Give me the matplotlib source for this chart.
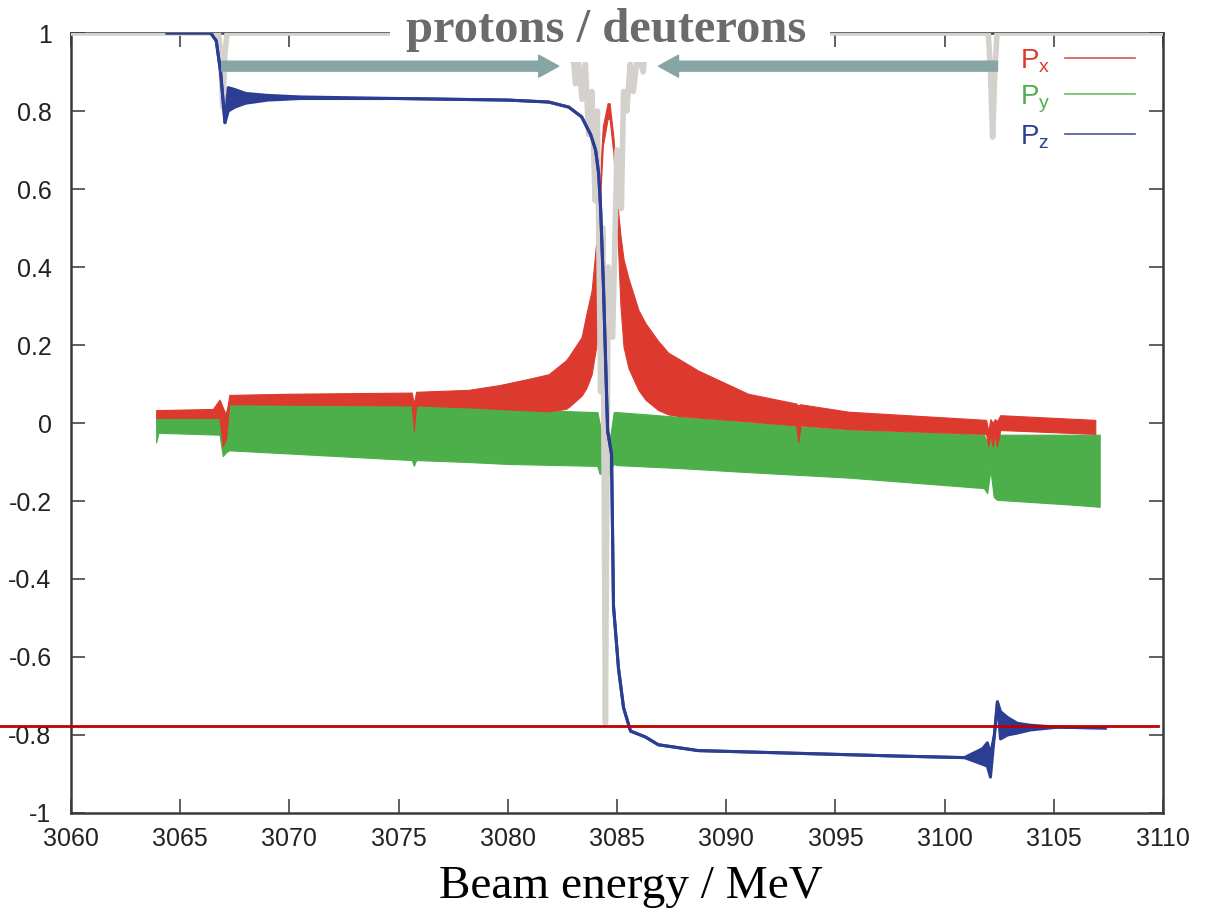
import matplotlib
matplotlib.use("Agg")
import matplotlib.pyplot as plt
from matplotlib.lines import Line2D
from matplotlib.patches import Rectangle, FancyArrowPatch

plt.rcParams['font.family'] = ['Liberation Sans', 'DejaVu Sans']
plt.rcParams['axes.unicode_minus'] = False

# Px band (upper / lower envelope of the fast oscillation)
px_E = [3063.9, 3066.5, 3066.8, 3066.95, 3067.1, 3067.25, 3070.0, 3075.6, 3075.7, 3075.8,
        3078.2, 3079.6, 3081.1, 3081.87, 3082.65, 3082.79, 3083.38, 3083.6, 3083.84,
        3084.06, 3084.16, 3084.25, 3084.35, 3084.57, 3084.66, 3084.84, 3084.98, 3085.07,
        3085.16, 3085.3, 3085.53, 3085.98, 3086.3, 3086.89, 3087.35, 3087.81, 3088.7,
        3091.0, 3093.2, 3093.3, 3093.4, 3095.6, 3101.9, 3102.0, 3102.1, 3102.2, 3102.3,
        3102.4, 3102.55, 3106.9]
px_hi = [0.033, 0.036, 0.06, 0.04, 0.02, 0.072, 0.075, 0.078, 0.05, 0.08,
         0.085, 0.097, 0.115, 0.125, 0.16, 0.17, 0.22, 0.28, 0.34,
         0.47, 0.55, 0.66, 0.76, 0.82, 0.82, 0.73, 0.60, 0.53,
         0.48, 0.42, 0.37, 0.29, 0.256, 0.21, 0.18, 0.165, 0.135,
         0.075, 0.05, 0.045, 0.048, 0.029, 0.008, -0.02, 0.01, 0.0, 0.01,
         0.005, 0.02, 0.008]
px_lo = [0.013, 0.013, 0.013, -0.06, -0.04, 0.048, 0.047, 0.045, -0.02, 0.045,
         0.04, 0.036, 0.032, 0.03, 0.036, 0.041, 0.07, 0.09, 0.125,
         0.20, 0.30, 0.60, 0.71, 0.78, 0.78, 0.69, 0.52, 0.42,
         0.30, 0.195, 0.14, 0.085, 0.06, 0.033, 0.022, 0.018, 0.014,
         0.004, -0.006, -0.05, -0.006, -0.016, -0.028, -0.06, -0.03, -0.06, -0.03,
         -0.06, -0.018, -0.028]

# Py band
py_E = [3063.9, 3064.0, 3066.8, 3066.95, 3067.1, 3067.25, 3075.6, 3075.7, 3075.8, 3078.2,
        3080.0, 3084.1, 3084.2, 3084.3, 3084.5, 3084.7, 3084.85, 3085.0, 3088.0, 3091.0,
        3095.6, 3101.8, 3101.95, 3102.1, 3102.25, 3102.4, 3106.0, 3107.1]
py_hi = [0.015, 0.015, 0.015, -0.01, 0.03, 0.05, 0.045, 0.0, 0.045, 0.04,
         0.035, 0.028, 0.0, -0.03, -0.03, -0.03, 0.028, 0.028, 0.015, 0.002,
         -0.018, -0.03, -0.05, -0.03, -0.05, -0.03, -0.03, -0.03]
py_lo = [-0.05, -0.025, -0.03, -0.085, -0.075, -0.07, -0.095, -0.11, -0.095, -0.1,
         -0.105, -0.11, -0.13, -0.13, -0.15, -0.12, -0.105, -0.108, -0.116, -0.126,
         -0.14, -0.167, -0.18, -0.12, -0.19, -0.197, -0.21, -0.215]

# Pz (with ringing envelope after each crossing)
pz_E = [3064.4, 3066.4, 3066.65, 3066.85, 3067.05, 3067.2, 3067.5, 3068.0, 3069.0, 3070.5,
        3075.0, 3080.0, 3081.87, 3082.79, 3083.38, 3083.79, 3084.02, 3084.16, 3084.25,
        3084.38, 3084.57, 3084.75, 3084.84, 3085.07, 3085.3, 3085.62, 3086.3, 3086.89,
        3088.72, 3093.29, 3097.85, 3100.91, 3101.74, 3101.96, 3102.1, 3102.28, 3102.42,
        3102.56, 3102.88, 3103.33, 3103.93, 3105.16, 3107.35]
pz_hi = [1.0, 1.0, 0.98, 0.9, 0.77, 0.86, 0.855, 0.845, 0.84, 0.836,
         0.832, 0.828, 0.823, 0.81, 0.785, 0.74, 0.70, 0.64, 0.55,
         0.35, -0.02, -0.08, -0.47, -0.63, -0.73, -0.79, -0.805, -0.825,
         -0.84, -0.847, -0.854, -0.858, -0.835, -0.82, -0.85, -0.8, -0.715,
         -0.74, -0.755, -0.77, -0.775, -0.78, -0.782]
pz_lo = [1.0, 1.0, 0.98, 0.9, 0.77, 0.80, 0.81, 0.82, 0.828, 0.832,
         0.832, 0.828, 0.823, 0.81, 0.785, 0.74, 0.70, 0.64, 0.55,
         0.35, -0.02, -0.08, -0.47, -0.63, -0.73, -0.79, -0.805, -0.825,
         -0.84, -0.847, -0.854, -0.858, -0.875, -0.88, -0.908, -0.8, -0.715,
         -0.81, -0.80, -0.795, -0.787, -0.78, -0.782]

# grey resonance curve
grey_E = [3060.0, 3066.75, 3066.85, 3066.95, 3067.05, 3067.15,
          3082.9, 3083.1, 3083.2, 3083.4, 3083.55, 3083.7, 3083.85, 3084.0, 3084.1,
          3084.25, 3084.35, 3084.47, 3084.6, 3084.8, 3085.0, 3085.2, 3085.3, 3085.45,
          3085.6, 3085.75, 3085.95, 3086.2, 3086.35,
          3102.0, 3102.1, 3102.2, 3102.3, 3102.4, 3110.0]
grey_P = [1.0, 1.0, 0.95, 0.81, 0.95, 1.0,
          1.0, 0.87, 0.95, 0.83, 0.92, 0.74, 0.85, 0.57, 0.8,
          0.08, 0.5, -0.77, 0.4, 0.22, 0.7, 0.55, 0.85, 0.8,
          0.92, 0.85, 0.95, 0.9, 1.0,
          1.0, 0.9, 0.733, 0.9, 1.0, 1.0]

ref_level = -0.776
xticks = list(range(3060, 3111, 5))
yticks = [-1, -0.8, -0.6, -0.4, -0.2, 0, 0.2, 0.4, 0.6, 0.8, 1]
ytick_labels = ['-1', '-0.8', '-0.6', '-0.4', '-0.2', '0', '0.2', '0.4', '0.6', '0.8', '1']

red = '#dc3a2f'
green = '#4caf4a'
blue = '#2c3e94'
grey = '#d4d0cc'
arrow_col = '#88a5a5'

fig = plt.figure(figsize=(12.09, 9.13), dpi=100)
ax = fig.add_axes([71 / 1209, 1 - 813 / 913, 1092 / 1209, 780 / 913])

ax.fill_between(py_E, py_hi, py_lo, color=green, lw=0.8, zorder=2)
ax.fill_between(px_E, px_hi, px_lo, color=red, lw=0.8, zorder=3)
ax.plot(grey_E, grey_P, color=grey, lw=4, zorder=4, solid_joinstyle='round')
ax.fill_between(pz_E, pz_hi, pz_lo, color=blue, lw=0, zorder=5)
ax.plot(pz_E, pz_hi, color=blue, lw=2.2, zorder=5)
ax.plot(pz_E, pz_lo, color=blue, lw=2.2, zorder=5)

# dark red reference line, runs out to the left edge of the picture
ax.plot([-71 / 1092, 0.9954], [ref_level, ref_level], color='#c00000', lw=2,
        transform=ax.get_yaxis_transform(), clip_on=False, zorder=6)

ax.set_xlim(3060, 3110)
ax.set_ylim(-1, 1)
ax.set_xticks(xticks)
ax.set_yticks(yticks)
ax.set_yticklabels(ytick_labels)
ax.tick_params(direction='in', length=10, width=1.2, top=True, right=True,
               labelsize=18, color='#444444', labelcolor='#222222')
ax.tick_params(axis='y', pad=14)
ax.tick_params(axis='x', pad=10)
for s in ax.spines.values():
    s.set_color('#3a3a3a')
    s.set_linewidth(1.8)

handles = [Line2D([], [], color='#d05a55', lw=1.2),
           Line2D([], [], color='#6cba6a', lw=1.2),
           Line2D([], [], color='#4a5898', lw=1.2)]
labels = [r'P$_\mathregular{x}$', r'P$_\mathregular{y}$', r'P$_\mathregular{z}$']
leg = ax.legend(handles, labels, loc='upper right', bbox_to_anchor=(0.997, 1.014),
                frameon=False, markerfirst=False, handlelength=2.5,
                handletextpad=0.55, labelspacing=0.3, fontsize=20)
for t, c in zip(leg.get_texts(), [red, green, blue]):
    t.set_color(c)

# title box and arrows
fig.add_artist(Rectangle((390 / 1209, 1 - 62 / 913), 440 / 1209, 62 / 913,
                         transform=fig.transFigure, facecolor='white',
                         edgecolor='none', zorder=3))
fig.text(606 / 1209, 1 - 42 / 913, 'protons / deuterons', family='Liberation Serif',
         weight='bold', size=35, color='#6b6b6b', ha='center', va='baseline', zorder=4)
for a, b in [((3066.9, 0.915), (3082.33, 0.915)), ((3102.42, 0.915), (3086.9, 0.915))]:
    fig.add_artist(FancyArrowPatch(a, b, transform=ax.transData,
                                   arrowstyle='simple,head_length=1.44,head_width=1.58,tail_width=0.72',
                                   mutation_scale=10, color=arrow_col, shrinkA=0, shrinkB=0,
                                   zorder=5))

fig.text(631 / 1209, 1 - 898 / 913, 'Beam energy / MeV', family='Liberation Serif',
         size=34, color='black', ha='center', va='baseline')

fig.savefig('out.png', dpi=100)
